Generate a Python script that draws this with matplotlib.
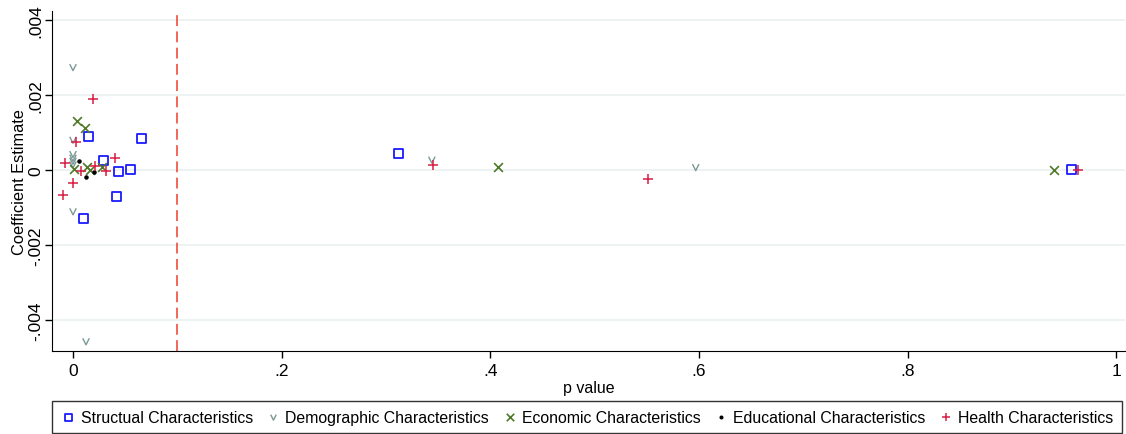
import matplotlib.pyplot as plt
from matplotlib.path import Path

plt.rcParams['font.family'] = ['Liberation Sans', 'DejaVu Sans']

# p values and coefficient estimates
struct_p = [0.015, 0.066, 0.029, 0.044, 0.055, 0.042, 0.0105, 0.312, 0.957]
struct_b = [0.00090, 0.00085, 0.00025, -0.00003, 0.0, -0.00071, -0.00129, 0.00045, 0.0]

demo_p = [0.0, 0.0, 0.0, 0.0, 0.0, 0.0, 0.0, 0.0125, 0.344, 0.597]
demo_b = [0.00274, 0.00080, 0.00042, 0.00032, 0.00024, 0.00014, -0.00111, -0.00458,
          0.00027, 0.00007]

econ_p = [0.0035, 0.0115, 0.001, 0.013, 0.016, 0.0275, 0.407, 0.940]
econ_b = [0.00130, 0.00112, 0.00003, 0.00009, 0.0, 0.00009, 0.00007, 0.0]

educ_p = [0.006, 0.012, 0.020]
educ_b = [0.00025, -0.00020, -0.00006]

health_p = [0.0195, 0.003, -0.0077, 0.0077, 0.021, 0.032, 0.040, 0.0, -0.010,
            0.345, 0.551, 0.963]
health_b = [0.00189, 0.00075, 0.00020, -0.00002, 0.00012, -0.00002, 0.00033,
            -0.00036, -0.00067, 0.00013, -0.00024, 0.0]

# open "v" shaped marker
vee = Path([(-1, 1), (0, -1), (1, 1)], [Path.MOVETO, Path.LINETO, Path.LINETO])

fig = plt.figure(figsize=(11.26, 4.35), dpi=100)
ax = fig.add_axes([0.0462, 0.191, 0.953, 0.781])

for y in [-0.004, -0.002, 0, 0.002, 0.004]:
    ax.axhline(y, color='#eaf0f0', lw=1.2, zorder=0)

ax.axvline(0.1, color='#f05a4a', lw=1.3, ls=(0, (6, 3)), zorder=1)

ax.scatter(struct_p, struct_b, marker='s', s=42, facecolors='none',
           edgecolors='#1a1aff', linewidths=1.3, label='Structual Characteristics', zorder=3)
ax.scatter(demo_p, demo_b, marker=vee, s=22, facecolors='none', edgecolors='#7a9a96',
           linewidths=1.0, label='Demographic Characteristics', zorder=3)
ax.scatter(econ_p, econ_b, marker='x', s=40, color='#4f7a2a', linewidths=1.2,
           label='Economic Characteristics', zorder=3)
ax.scatter(educ_p, educ_b, marker='o', s=5, color='black',
           label='Educational Characteristics', zorder=3)
ax.scatter(health_p, health_b, marker='+', s=45, color='#d81e44', linewidths=1.1,
           label='Health Characteristics', zorder=3)

ax.set_xlim(-0.0201, 1.0086)
ax.set_ylim(-0.00483, 0.00424)
ax.set_xticks([0, 0.2, 0.4, 0.6, 0.8, 1])
ax.set_xticklabels(['0', '.2', '.4', '.6', '.8', '1'])
ax.set_yticks([-0.004, -0.002, 0, 0.002, 0.004])
ax.set_yticklabels(['-.004', '-.002', '0', '.002', '.004'], rotation=90, va='center')
ax.tick_params(labelsize=12.5, length=5, width=1)
ax.tick_params(axis='y', pad=1.5)
ax.set_xlabel('p value', fontsize=11.5, labelpad=2)
ax.set_ylabel('Coefficient Estimate', fontsize=11.8, labelpad=1)
for side in ['top', 'right']:
    ax.spines[side].set_visible(False)

leg = ax.legend(loc='upper left', bbox_to_anchor=(0, -0.247, 0.997, 0.1), mode='expand',
                borderaxespad=0, ncol=5, fontsize=11.4, frameon=True, fancybox=False,
                edgecolor='black', handletextpad=0.25, borderpad=0.55, handlelength=1.0,
                scatterpoints=1, markerscale=0.85)
leg.get_frame().set_linewidth(1)

plt.savefig('out.png', dpi=100)
